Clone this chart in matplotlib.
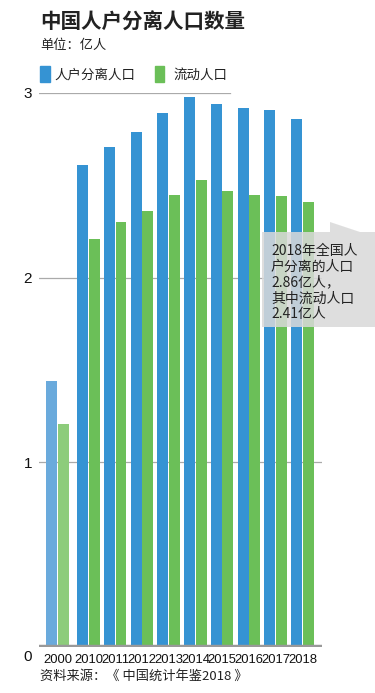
import matplotlib.pyplot as plt
from matplotlib.patches import Rectangle, Polygon
from matplotlib.transforms import ScaledTranslation
import numpy as np

plt.rcParams['font.family'] = ['Noto Sans CJK SC', 'DejaVu Sans']

years = ['2000', '2010', '2011', '2012', '2013', '2014', '2015', '2016', '2017', '2018']
separated = [1.44, 2.61, 2.71, 2.79, 2.89, 2.98, 2.94, 2.92, 2.91, 2.86]
floating = [1.21, 2.21, 2.30, 2.36, 2.45, 2.53, 2.47, 2.45, 2.44, 2.41]

BLUE = '#3593d3'
GREEN = '#6bbf58'
BLUE_L = '#6aaadc'
GREEN_L = '#8dcc7b'

W, H = 375, 693
fig = plt.figure(figsize=(W / 100, H / 100), dpi=100)

# axes in pixel coordinates of the reference
left, right, top, bottom = 39, 322, 93, 647
ax = fig.add_axes([left / W, 1 - bottom / H, (right - left) / W, (bottom - top) / H])

x = np.arange(len(years), dtype=float)
x[1:] += 0.16   # gap between 2000 and 2010
bw = 0.41
blue_cols = [BLUE_L] + [BLUE] * (len(years) - 1)
green_cols = [GREEN_L] + [GREEN] * (len(years) - 1)
ax.bar(x - 0.215, separated, bw, color=blue_cols, zorder=2)
ax.bar(x + 0.215, floating, bw, color=green_cols, zorder=2)

ax.set_xlim(-0.69, x[-1] + 0.73)
ax.set_ylim(0, 3)

for v in [1, 2]:
    ax.axhline(v, color='#aaaaaa', lw=0.9, zorder=1)
ax.axhline(3, xmin=0, xmax=0.675, color='#aaaaaa', lw=0.9, zorder=1)
ax.axhline(0, color='#999999', lw=3.2, zorder=3)

for s in ax.spines.values():
    s.set_visible(False)
ax.set_yticks([0, 1, 2, 3])
ax.set_yticklabels(['0', '1', '2', '3'], fontsize=11, family='Liberation Sans', color='#111111')
ax.tick_params(axis='y', length=0, pad=5)
ax.set_xticks(x)
ax.set_xticklabels(years, fontsize=9.4, family='Liberation Sans', color='#111111')
ax.tick_params(axis='x', length=0, pad=5)
lab0 = ax.get_yticklabels()[0]
lab0.set_transform(lab0.get_transform() + ScaledTranslation(0, -6 / 72, fig.dpi_scale_trans))

# titles
fig.text(40 / W, 1 - 22 / H, '中国人户分离人口数量', fontsize=14.8, fontweight='bold',
         va='center', ha='left', color='#222222')
fig.text(40 / W, 1 - 45 / H, '单位：亿人', fontsize=9.5, va='center', ha='left', color='#222222')

# legend
fig.patches.append(Rectangle((40 / W, 1 - 82 / H), 10 / W, 16 / H, color=BLUE,
                             transform=fig.transFigure, figure=fig))
fig.text(54 / W, 1 - 75 / H, '人户分离人口', fontsize=9.7, va='center', ha='left', color='#222222')
fig.patches.append(Rectangle((155 / W, 1 - 82 / H), 9 / W, 16 / H, color=GREEN,
                             transform=fig.transFigure, figure=fig))
fig.text(173 / W, 1 - 75 / H, '流动人口', fontsize=9.7, va='center', ha='left', color='#222222')

# source
fig.text(40 / W, 1 - 676 / H, '资料来源：《 中国统计年鉴2018 》', fontsize=9.5,
         va='center', ha='left', color='#222222')

# callout
box_col = '#d9d9d9'
fig.patches.append(Rectangle((262 / W, 1 - 327 / H), (375 - 262) / W, (327 - 232) / H,
                             facecolor=box_col, alpha=0.85, lw=0,
                             transform=fig.transFigure, figure=fig, zorder=5))
fig.patches.append(Polygon([(330 / W, 1 - 222 / H), (330 / W, 1 - 232 / H), (360 / W, 1 - 232 / H)],
                           closed=True, facecolor=box_col, alpha=0.85, lw=0,
                           transform=fig.transFigure, figure=fig, zorder=5))
fig.text(271 / W, 1 - 244 / H, '2018年全国人\n户分离的人口\n2.86亿人，\n其中流动人口\n2.41亿人',
         fontsize=10, va='top', ha='left', color='#222222', linespacing=1.17, zorder=6)

fig.savefig('out.png', dpi=100)
